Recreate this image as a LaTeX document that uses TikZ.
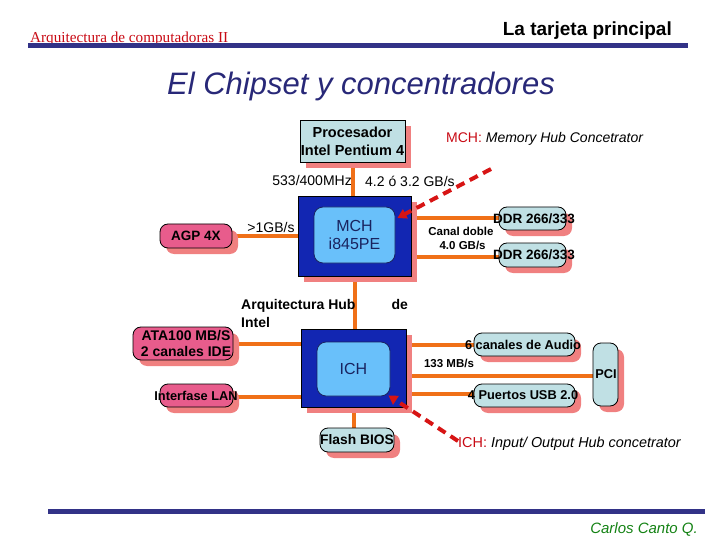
\documentclass[tikz,border=0pt]{standalone}
\usepackage{fontspec}
\setmainfont{Liberation Sans}
\newfontfamily\serifhead{Liberation Serif}
\usetikzlibrary{shadows,arrows.meta}
\pgfdeclarelayer{background}
\pgfsetlayers{background,main}
\definecolor{barblue}{RGB}{50,50,135}
\definecolor{titleblue}{RGB}{40,40,120}
\definecolor{headred}{RGB}{200,10,20}
\definecolor{shadowpink}{RGB}{240,128,128}
\definecolor{boxgray}{RGB}{192,224,228}
\definecolor{boxpink}{RGB}{232,92,140}
\definecolor{chipdark}{RGB}{18,38,178}
\definecolor{chiplight}{RGB}{105,192,250}
\definecolor{chiptext}{RGB}{25,35,95}
\definecolor{wireorange}{RGB}{240,112,24}
\definecolor{arrowred}{RGB}{215,20,20}
\definecolor{signgreen}{RGB}{20,130,20}
\tikzset{
  shad/.style={drop shadow={shadow xshift=6pt,shadow yshift=-6pt,fill=shadowpink,opacity=1}},
  graybox/.style={shad,draw=black,line width=0.8pt,fill=boxgray,rounded corners=8pt,inner sep=0pt},
  pinkbox/.style={shad,draw=black,line width=0.8pt,fill=boxpink,rounded corners=8pt,inner sep=0pt},
  procbox/.style={shad,draw=black,line width=0.8pt,fill=boxgray,inner sep=0pt},
  chipouter/.style={shad,draw=black,line width=0.8pt,fill=chipdark,inner sep=0pt},
  chipinner/.style={draw=chiptext,line width=0.8pt,fill=chiplight,rounded corners=9pt,inner sep=0pt,
     font=\fontsize{16}{18}\selectfont,text=chiptext,align=center},
  boxtxt/.style={font=\bfseries\fontsize{12.8}{15}\selectfont,align=center,inner sep=0pt},
  lbl/.style={font=\fontsize{14}{16}\selectfont,inner sep=0pt},
  blbl/.style={font=\bfseries\fontsize{11.5}{14}\selectfont,inner sep=0pt,align=left},
  wire/.style={wireorange,line width=4pt},
  redarrow/.style={arrowred,line width=4pt,dash pattern=on 9pt off 6pt,-{Triangle[length=9pt,width=10pt]}},
}
\begin{document}
\begin{tikzpicture}[x=1pt,y=-1pt]
\useasboundingbox (0,0) rectangle (720,540);
% header
\node[anchor=base west,inner sep=0pt,font=\serifhead\fontsize{15.2}{17}\selectfont,text=headred] (hl) at (30,43) {Arquitectura de computadoras II};
\node[anchor=base east,inner sep=0pt,font=\bfseries\fontsize{19}{22}\selectfont] (hr) at (672,36) {La tarjeta principal};
\fill[barblue] (28,43) rectangle (688,48);
\node[inner sep=0pt,font=\itshape\fontsize{31}{36}\selectfont,text=titleblue] (title) at (361,86) {El Chipset y concentradores};
% boxes
\node[procbox,minimum width=105,minimum height=42] (proc) at (352.5,141) {};
\node[boxtxt,font=\bfseries\fontsize{14.5}{18}\selectfont] (proct) at (proc) {Procesador\\Intel Pentium 4};
\node[chipouter,minimum width=113,minimum height=80] (mcho) at (354.5,236) {};
\node[chipinner,minimum width=81,minimum height=56] (mchi) at (354.5,235) {MCH\\i845PE};
\node[pinkbox,minimum width=72,minimum height=24] (agp) at (196,236) {};
\node[boxtxt,font=\bfseries\fontsize{13.5}{15}\selectfont] (agpt) at (agp) {AGP 4X};
\node[graybox,minimum width=67,minimum height=23] (ddr1) at (532.5,218.5) {};
\node[boxtxt,font=\bfseries\fontsize{13.5}{15}\selectfont] (ddr1t) at (534,218.5) {DDR 266/333};
\node[graybox,minimum width=67,minimum height=24] (ddr2) at (532.5,255) {};
\node[boxtxt,font=\bfseries\fontsize{13.5}{15}\selectfont] (ddr2t) at (534,255) {DDR 266/333};
\node[chipouter,minimum width=105,minimum height=78] (icho) at (353.5,368) {};
\node[chipinner,minimum width=73,minimum height=54] (ichi) at (353.5,369) {ICH};
\node[pinkbox,minimum width=100,minimum height=33] (ata) at (183,343.5) {};
\node[boxtxt,font=\bfseries\fontsize{14}{16}\selectfont] (atat) at (186,343.5) {ATA100 MB/S\\2 canales IDE};
\node[pinkbox,minimum width=73,minimum height=23] (lan) at (196.5,395.5) {};
\node[boxtxt] (lant) at (196,395.5) {Interfase LAN};
\node[graybox,minimum width=74,minimum height=24] (bios) at (357,440) {};
\node[boxtxt,font=\bfseries\fontsize{13.8}{15}\selectfont] (biost) at (bios) {Flash BIOS};
\node[graybox,minimum width=101,minimum height=23] (aud) at (524.5,344.5) {};
\node[boxtxt] (audt) at (523,344.5) {6 canales de Audio};
\node[graybox,minimum width=101,minimum height=23] (usb) at (524.5,395.5) {};
\node[boxtxt] (usbt) at (523,395.5) {4 Puertos USB 2.0};
\node[graybox,minimum width=25,minimum height=63] (pci) at (605.5,374.5) {};
\node[boxtxt] (pcit) at (606,374.5) {PCI};
% wires
\begin{pgfonlayer}{background}
\draw[wire] (proc.south) -- (proc.south |- mcho.north);
\draw[wire] (mcho.south) -- (mcho.south |- icho.north);
\draw[wire] (agp.east) -- (mcho.west |- agp.east);
\draw[wire] (mcho.east |- ddr1.west) -- (ddr1.west);
\draw[wire] ([yshift=-2pt]mcho.east |- ddr2.west) -- ([yshift=-2pt]ddr2.west);
\draw[wire] (ata.east) -- (icho.west |- ata.east);
\draw[wire] ([yshift=-1.5pt]lan.east) -- ([yshift=-1.5pt]icho.west |- lan.east);
\draw[wire] (icho.south) -- (icho.south |- bios.north);
\draw[wire] (icho.east |- aud.west) -- (aud.west);
\draw[wire] ([yshift=1.5pt]icho.east |- usb.west) -- ([yshift=1.5pt]usb.west);
\draw[wire] ([yshift=-1.5pt]icho.east |- pci.west) -- ([yshift=-1.5pt]pci.west);
\end{pgfonlayer}
% labels
\node[lbl,anchor=east] (l533) at (352,180) {533/400MHz};
\node[lbl,anchor=west] (l42) at (365,181) {4.2 ó 3.2 GB/s};
\node[lbl,anchor=center] (lagp) at (271,227) {>1GB/s};
\node[blbl,align=center,anchor=center] (lcanal) at (461,238) {Canal doble\\\ 4.0 GB/s};
\node[blbl,font=\bfseries\fontsize{14}{18}\selectfont,anchor=north west] (larq) at (241,299) {Arquitectura Hub\hspace{36pt}de\\Intel};
\node[blbl,anchor=center] (l133) at (449,363) {133 MB/s};
\node[anchor=west,inner sep=0pt,font=\fontsize{14}{16}\selectfont] (mchnote) at (446,139) {\textcolor{headred}{MCH:} \textit{Memory Hub Concetrator}};
\node[anchor=west,inner sep=0pt,font=\fontsize{14.4}{17}\selectfont] (ichnote) at (458,444) {\textcolor{headred}{ICH:} \textit{Input/ Output Hub concetrator}};
% arrows
\coordinate (mchsrc) at (491,169);
\coordinate (ichsrc) at (458,441);
\draw[redarrow] (mchsrc) -- ([xshift=2pt,yshift=17pt]mchi.east);
\draw[redarrow] (ichsrc) -- ([xshift=-2pt,yshift=1pt]ichi.south east);
% footer
\fill[barblue] (48,509) rectangle (705,514);
\node[anchor=base east,inner sep=0pt,font=\itshape\fontsize{15}{17}\selectfont,text=signgreen] (sign) at (698,533) {Carlos Canto Q.};
\end{tikzpicture}
\end{document}
